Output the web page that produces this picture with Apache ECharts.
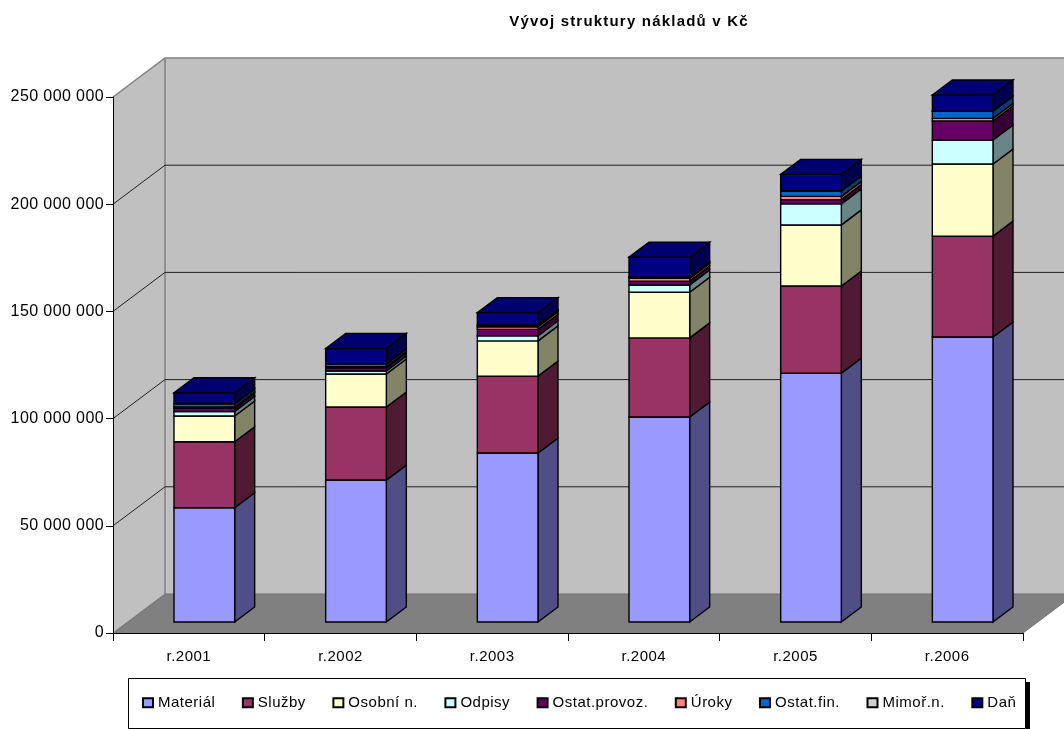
<!DOCTYPE html>
<html>
<head>
<meta charset="utf-8">
<style>html,body{margin:0;padding:0;background:#fff;overflow:hidden}#chart{width:1064px;height:729px}</style>
<script src="https://cdn.jsdelivr.net/npm/echarts@6/dist/echarts.min.js"></script>
</head>
<body>
<div id="chart"></div>
<script>
// Costs by year in CZK, stacked from the bottom of each column upwards
var categories = ['r.2001', 'r.2002', 'r.2003', 'r.2004', 'r.2005', 'r.2006'];
var material = [53300000, 66200000, 78800000, 95600000, 116100000, 132900000];
var sluzby   = [30800000, 34100000, 35900000, 36900000, 40600000, 47100000];
var osobni   = [12000000, 15400000, 16400000, 21300000, 28500000, 33600000];
var odpisy   = [2100000, 1400000, 2400000, 3400000, 9800000, 11200000];
var provoz   = [1500000, 1500000, 3000000, 1800000, 2000000, 8900000];
var uroky    = [600000, 500000, 1200000, 1300000, 1500000, 1200000];
var ostatFin = [1300000, 1300000, 700000, 500000, 2500000, 3300000];
var mimor    = [400000, 100000, 200000, 100000, 200000, 100000];
var dan      = [4900000, 7100000, 5700000, 9300000, 7600000, 7500000];
var axisTicks = [0, 50000000, 100000000, 150000000, 200000000, 250000000];

var layers = [
  {name: 'Materiál',      values: material, front: '#9999FF', side: '#4F4F85'},
  {name: 'Služby',        values: sluzby,   front: '#993366', side: '#4E1A34'},
  {name: 'Osobní n.',     values: osobni,   front: '#FFFFCC', side: '#838368'},
  {name: 'Odpisy',        values: odpisy,   front: '#CCFFFF', side: '#698585'},
  {name: 'Ostat.provoz.', values: provoz,   front: '#660066', side: '#350035'},
  {name: 'Úroky',         values: uroky,    front: '#FF8080', side: '#A85555'},
  {name: 'Ostat.fin.',    values: ostatFin, front: '#0066CC', side: '#003F78'},
  {name: 'Mimoř.n.',      values: mimor,    front: '#D0D0D0', side: '#6C6C6C'},
  {name: 'Daň',           values: dan,      front: '#000080', side: '#00004F', top: '#000070'}
];

// Tracking per text style, applied to both drawing and measuring so layout stays consistent
function trackingFor(font) {
  if (font.indexOf('bold') >= 0) return '1.2px';
  if (font.indexOf('16px') >= 0) return '0.4px';
  return '0.5px';
}
['fillText', 'strokeText', 'measureText'].forEach(function (method) {
  var original = CanvasRenderingContext2D.prototype[method];
  CanvasRenderingContext2D.prototype[method] = function () {
    this.letterSpacing = trackingFor(this.font);
    return original.apply(this, arguments);
  };
});

// Oblique projection of the box: full floor depth, then where columns sit inside it
var DEPTH_X = 52, DEPTH_Y = -39;
var INSET_X = 15.5, INSET_Y = -11;
var BAR_DX = 20, BAR_DY = -15;
var BAR_RATIO = 0.4;

function poly(points, fill, stroke, lw) {
  return {type: 'polygon', shape: {points: points},
          style: {fill: fill, stroke: stroke || null, lineWidth: lw || 0}};
}

// Side wall, back wall and floor, with the value gridlines folded across them
function renderWalls(params, api) {
  var v = api.value(0);
  var rect = params.coordSys;
  var left = rect.x, right = rect.x + rect.width;
  var y = api.coord([0, v])[1];
  var bx = left + DEPTH_X, by = y + DEPTH_Y;
  var children = [];
  if (params.dataIndex === 0) {
    var top = api.coord([0, axisTicks[axisTicks.length - 1]])[1];
    children.push(poly([[left, top], [bx, top + DEPTH_Y], [bx, y + DEPTH_Y], [left, y]], '#C0C0C0'));
    children.push(poly([[bx, top + DEPTH_Y], [right + DEPTH_X, top + DEPTH_Y], [right + DEPTH_X, by], [bx, by]], '#C0C0C0'));
    children.push(poly([[left, y], [right, y], [right + DEPTH_X, by], [bx, by]], '#808080'));
    children.push({type: 'polyline', shape: {points: [[left, top], [bx, top + DEPTH_Y], [right + DEPTH_X, top + DEPTH_Y]]},
                   style: {fill: null, stroke: '#808080', lineWidth: 1.5}});
    children.push({type: 'line', shape: {x1: bx, y1: top + DEPTH_Y, x2: bx, y2: by},
                   style: {stroke: '#808080', lineWidth: 1.5}});
  }
  if (v > 0 && v < axisTicks[axisTicks.length - 1]) {
    children.push({type: 'polyline', shape: {points: [[left, y], [bx, by], [right + DEPTH_X, by]]},
                   style: {fill: null, stroke: '#222222', lineWidth: 1}});
  }
  if (v === 0) {
    children.push({type: 'polyline', shape: {points: [[left, y], [bx, by], [right + DEPTH_X, by], [right, y]]},
                   style: {fill: null, stroke: '#707070', lineWidth: 1}});
  }
  return {type: 'group', children: children};
}

// One stacked block of a column: front face, right face and, for the last layer, the lid
function blockRenderer(layer, isLast) {
  return function (params, api) {
    var cat = api.value(0);
    var p0 = api.coord([cat, api.value(1)]);
    var p1 = api.coord([cat, api.value(2)]);
    var w = api.size([1, 0])[0] * BAR_RATIO;
    var x0 = p0[0] - w / 2 + INSET_X, x1 = x0 + w;
    var yb = p0[1] + INSET_Y, yt = p1[1] + INSET_Y;
    var edge = '#000000', lw = 1.4;
    var children = [
      poly([[x1, yb], [x1 + BAR_DX, yb + BAR_DY], [x1 + BAR_DX, yt + BAR_DY], [x1, yt]], layer.side, edge, lw),
      poly([[x0, yb], [x1, yb], [x1, yt], [x0, yt]], layer.front, edge, lw)
    ];
    if (isLast) {
      children.push(poly([[x0, yt], [x1, yt], [x1 + BAR_DX, yt + BAR_DY], [x0 + BAR_DX, yt + BAR_DY]], layer.top, edge, lw));
    }
    return {type: 'group', children: children};
  };
}

var running = categories.map(function () { return 0; });
var blockSeries = layers.map(function (layer, idx) {
  var rows = layer.values.map(function (val, i) {
    var row = [i, running[i], running[i] + val];
    running[i] += val;
    return row;
  });
  return {
    type: 'custom', name: layer.name, data: rows, z: 3, silent: true,
    clip: false, animation: false,
    encode: {x: 0, y: 2},
    itemStyle: {color: layer.front, borderColor: '#000', borderWidth: 1},
    renderItem: blockRenderer(layer, idx === layers.length - 1)
  };
});

var wallSeries = {
  type: 'custom', name: 'walls', z: 1, silent: true, clip: false, animation: false,
  data: axisTicks.map(function (t) { return [t]; }),
  encode: {y: 0},
  renderItem: renderWalls
};

var chart = echarts.init(document.getElementById('chart'));
var fontFamily = '"Liberation Sans", Arial, sans-serif';
chart.setOption({
  animation: false,
  backgroundColor: '#ffffff',
  textStyle: {fontFamily: fontFamily},
  title: {
    text: 'Vývoj struktury nákladů v Kč',
    left: 624, top: 9, textAlign: 'center',
    textStyle: {fontFamily: fontFamily, fontSize: 15, fontWeight: 'bold', color: '#000'}
  },
  grid: {left: 113, top: 97, width: 910, height: 536},
  xAxis: {
    type: 'category', data: categories, z: 10,
    boundaryGap: true,
    axisLine: {lineStyle: {color: '#000', width: 1}},
    axisTick: {show: true, alignWithLabel: false, length: 8, lineStyle: {color: '#000'}},
    axisLabel: {color: '#000', fontSize: 15, margin: 16, fontFamily: fontFamily},
    splitLine: {show: false}
  },
  yAxis: {
    type: 'value', min: 0, max: 250000000, interval: 50000000, z: 10,
    axisLine: {show: true, lineStyle: {color: '#000', width: 1}},
    axisTick: {show: true, length: 7, lineStyle: {color: '#000'}},
    axisLabel: {
      color: '#000', fontSize: 16, margin: 9, fontFamily: fontFamily,
      formatter: function (v) { return String(v).replace(/\B(?=(\d{3})+$)/g, ' '); }
    },
    splitLine: {show: false}
  },
  legend: {
    data: layers.map(function (l) { return l.name; }),
    left: 137, top: 690, orient: 'horizontal',
    icon: 'rect', itemWidth: 10, itemHeight: 9, itemGap: 26.5,
    selectedMode: false,
    textStyle: {color: '#000', fontSize: 15, fontFamily: fontFamily, padding: [0, 0, 0, 0]}
  },
  graphic: [
    {type: 'rect', z: -1, shape: {x: 1026, y: 682, width: 4, height: 48}, style: {fill: '#000'}},
    {type: 'rect', z: -1, shape: {x: 128.5, y: 678.5, width: 897, height: 50}, style: {fill: '#fff', stroke: '#000', lineWidth: 1}}
  ],
  series: [wallSeries].concat(blockSeries)
});
</script>
</body>
</html>
